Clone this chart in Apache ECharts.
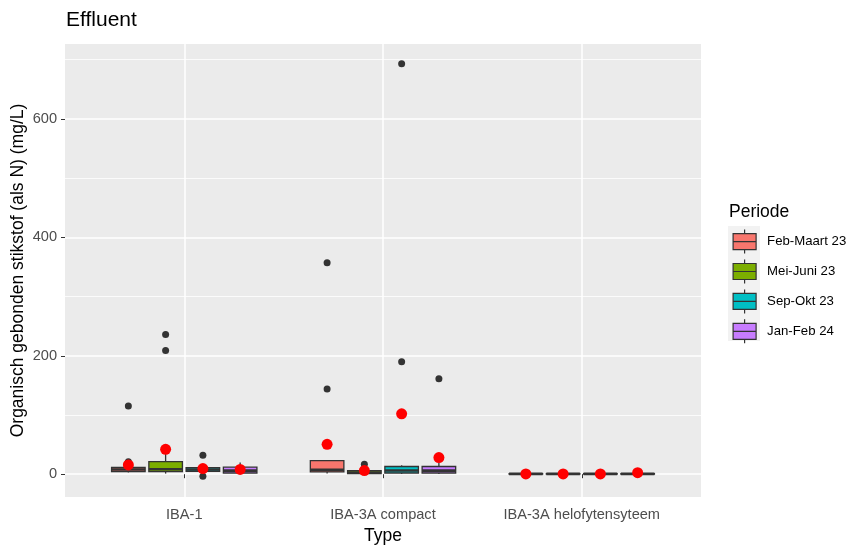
<!DOCTYPE html>
<html><head><meta charset="utf-8">
<script src="https://cdn.jsdelivr.net/npm/echarts@6/dist/echarts.min.js"></script>
<style>html,body{margin:0;padding:0;background:#fff}#c{width:856px;height:545px}</style>
</head><body><div id="c"></div>
<script>
// ---- data ----
const categories = ['IBA-1', 'IBA-3A compact', 'IBA-3A helofytensyteem'];
const periods = ['Feb-Maart 23', 'Mei-Juni 23', 'Sep-Okt 23', 'Jan-Feb 24'];
const fills = ['#F8766D', '#7CAE00', '#00BFC4', '#C77CFF'];
// box stats per category: [lower whisker, Q1, median, Q3, upper whisker]
const boxFebMaart23 = [[3, 4.5, 8, 11.3, 15], [1, 3.9, 7.3, 23, 24], [0, 0.2, 0.5, 0.8, 1.2]];
const boxMeiJuni23  = [[1, 4.5, 8.4, 21.4, 36.5], [0.5, 1.2, 3, 6.2, 9], [0, 0.2, 0.5, 0.8, 1.2]];
const boxSepOkt23   = [[4, 5, 8, 11, 13], [0.5, 2, 6.2, 13, 15], [0, 0.2, 0.5, 0.8, 1.2]];
const boxJanFeb24   = [[0.5, 2, 6, 11.8, 19.7], [0.5, 2, 6, 13, 19.7], [0, 0.2, 0.5, 0.8, 1.2]];
// outliers per category
const outFebMaart23 = [[21, 115], [144, 357], []];
const outMeiJuni23  = [[209, 236], [16.8], []];
const outSepOkt23   = [[32, -3.4], [190, 693], []];
const outJanFeb24   = [[], [161], []];
// means per category
const meanFebMaart23 = [15.7, 50.5, 0.5];
const meanMeiJuni23  = [42, 6.2, 0.5];
const meanSepOkt23   = [9.6, 102, 0.5];
const meanJanFeb24   = [8, 28, 2.5];
const xTicks = [1, 2, 3];
const yTicks = [0, 200, 400, 600];
const yMinor = [100, 300, 500, 700];

const boxes = [boxFebMaart23, boxMeiJuni23, boxSepOkt23, boxJanFeb24];
const outs = [outFebMaart23, outMeiJuni23, outSepOkt23, outJanFeb24];
const means = [meanFebMaart23, meanMeiJuni23, meanSepOkt23, meanJanFeb24];

const dodge = 0.75 / periods.length;
const boxW = dodge * 0.9;
const pos = (ci, pj) => (ci + 1) + (pj - (periods.length - 1) / 2) * dodge;

const FONT = '"Liberation Sans", Arial, sans-serif';
const series = [];
periods.forEach((p, j) => {
  series.push({
    name: p, type: 'custom', itemStyle: {color: fills[j]},
    encode: {x: 0, y: [1, 2, 3, 4, 5]},
    data: boxes[j].map((b, ci) => [pos(ci, j)].concat(b)),
    renderItem: (params, api) => {
      const x = api.value(0);
      const lo = api.coord([x, api.value(1)]);
      const q1 = api.coord([x, api.value(2)]);
      const md = api.coord([x, api.value(3)]);
      const q3 = api.coord([x, api.value(4)]);
      const hi = api.coord([x, api.value(5)]);
      const half = api.size([boxW, 0])[0] / 2;
      const st = {stroke: '#333333', lineWidth: 1.3};
      return {type: 'group', children: [
        {type: 'line', shape: {x1: lo[0], y1: lo[1], x2: q1[0], y2: q1[1]}, style: st},
        {type: 'line', shape: {x1: q3[0], y1: q3[1], x2: hi[0], y2: hi[1]}, style: st},
        {type: 'rect', shape: {x: q3[0] - half, y: q3[1], width: 2 * half, height: q1[1] - q3[1]},
          style: {fill: fills[j], stroke: '#333333', lineWidth: 1.3}},
        {type: 'line', shape: {x1: md[0] - half, y1: md[1], x2: md[0] + half, y2: md[1]},
          style: {stroke: '#333333', lineWidth: 2.6}}
      ]};
    }
  });
});
periods.forEach((p, j) => {
  const d = [];
  outs[j].forEach((arr, ci) => arr.forEach(v => d.push([pos(ci, j), v])));
  series.push({name: 'out ' + p, type: 'scatter', symbolSize: 7, itemStyle: {color: '#333333', opacity: 1},
    data: d, silent: true});
});
periods.forEach((p, j) => {
  series.push({name: 'mean ' + p, type: 'scatter', symbolSize: 11, itemStyle: {color: '#FF0000', opacity: 1},
    data: means[j].map((v, ci) => [pos(ci, j), v]), silent: true});
});

const keyPath = 'path://M11.5,2V6M0,6H23V22H0ZM0,14H23M11.5,22V26';

const chart = echarts.init(document.getElementById('c'), null, {renderer: 'canvas'});
chart.setOption({
  animation: false,
  backgroundColor: '#ffffff',
  textStyle: {fontFamily: FONT},
  title: [
    {text: 'Effluent', left: 66, top: 10, padding: 0,
      textStyle: {fontFamily: FONT, fontSize: 21, fontWeight: 'normal', color: '#000000'}},
    {text: 'Periode', left: 729, top: 203, padding: 0,
      textStyle: {fontFamily: FONT, fontSize: 17.5, fontWeight: 'normal', color: '#000000'}}
  ],
  graphic: [{type: 'rect', left: 728, top: 226, z: -1, shape: {width: 32, height: 115}, style: {fill: '#F2F2F2'}}],
  legend: {
    orient: 'vertical', left: 732.5, top: 229, padding: 0, itemWidth: 23, itemHeight: 24, itemGap: 4.7,
    data: periods.map((p, j) => ({name: p, icon: keyPath,
      itemStyle: {color: fills[j], borderColor: '#333333', borderWidth: 1.2}})),
    textStyle: {fontFamily: FONT, fontSize: 13.2, color: '#000000', padding: [0, 0, 0, 6]},
    selectedMode: false
  },
  grid: {left: 65, right: 155, top: 44, bottom: 48, containLabel: false, outerBoundsMode: 'none',
    show: true, backgroundColor: '#EBEBEB', borderWidth: 0},
  xAxis: {
    type: 'value', min: 0.4, max: 3.6,
    name: 'Type', nameLocation: 'middle', nameGap: 28,
    nameTextStyle: {fontFamily: FONT, fontSize: 17.5, color: '#000000'},
    axisLine: {show: false},
    axisTick: {show: true, length: 4, customValues: xTicks, lineStyle: {color: '#333333', width: 1}},
    axisLabel: {customValues: xTicks, margin: 10, fontFamily: FONT, fontSize: 14.6, color: '#4D4D4D',
      formatter: v => categories[Math.round(v) - 1]},
    splitLine: {show: true, lineStyle: {color: '#FFFFFF', width: 1.5}}
  },
  yAxis: [{
    type: 'value', min: -38.5, max: 726.5,
    name: 'Organisch gebonden stikstof (als N) (mg/L)', nameLocation: 'middle', nameGap: 38,
    nameMoveOverlap: false,
    nameTextStyle: {fontFamily: FONT, fontSize: 17.5, color: '#000000'},
    axisLine: {show: false},
    axisTick: {show: true, length: 4, customValues: yTicks, lineStyle: {color: '#333333', width: 1}},
    axisLabel: {customValues: yTicks, margin: 8, fontFamily: FONT, fontSize: 14.6, color: '#4D4D4D'},
    splitLine: {show: true, lineStyle: {color: '#FFFFFF', width: 1.5}}
  }, {
    type: 'value', min: -38.5, max: 726.5, position: 'left',
    axisLine: {show: false}, axisTick: {show: false, customValues: yMinor},
    axisLabel: {show: false, customValues: yMinor},
    splitLine: {show: true, lineStyle: {color: '#FFFFFF', width: 0.8}}
  }],
  series: series
});
</script></body></html>
